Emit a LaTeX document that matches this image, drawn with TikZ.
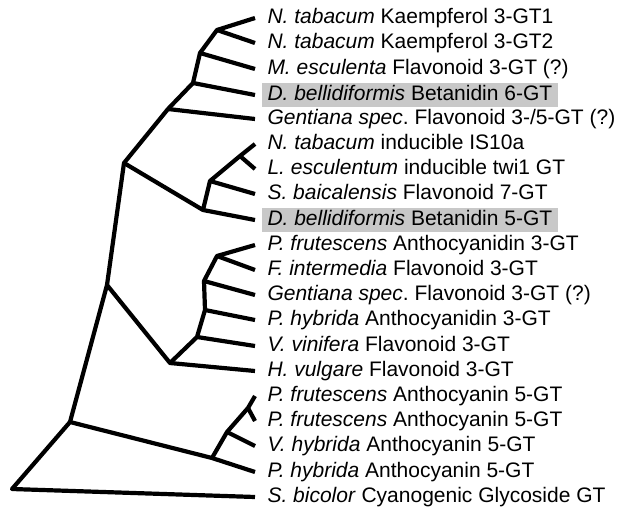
\documentclass[tikz,border=0pt]{standalone}
\usepackage{fontspec}
\setmainfont{Liberation Sans}
\usepackage{tikz}
\usetikzlibrary{shapes,arrows,positioning,calc}
\frenchspacing
\definecolor{hlgray}{RGB}{200,200,200}
\tikzset{
  leaf/.style={anchor=west, outer xsep=7pt, inner xsep=5.5pt, inner ysep=2.5pt,
    text height=15pt, text depth=4pt, font=\fontsize{21}{25}\selectfont},
  hleaf/.style={leaf, fill=hlgray},
  branch/.style={line width=4.2pt, line join=round}
}

\begin{document}
\begin{tikzpicture}[x=1pt,y=-1pt]
  \useasboundingbox (0,0) rectangle (621,508);
  \node[leaf]  (l1)  at (255,18)  {\textit{N. tabacum} Kaempferol 3-GT1};
  \node[leaf]  (l2)  at (255,43)  {\textit{N. tabacum} Kaempferol 3-GT2};
  \node[leaf]  (l3)  at (255,69)  {\textit{M. esculenta} Flavonoid 3-GT (?)};
  \node[hleaf] (l4)  at (255,95)  {\textit{D. bellidiformis} Betanidin 6-GT};
  \node[leaf]  (l5)  at (255,119) {\textit{Gentiana spec}. Flavonoid 3-/5-GT (?)};
  \node[leaf]  (l6)  at (255,144) {\textit{N. tabacum} inducible IS10a};
  \node[leaf]  (l7)  at (255,169) {\textit{L. esculentum} inducible twi1 GT};
  \node[leaf]  (l8)  at (255,194) {\textit{S. baicalensis} Flavonoid 7-GT};
  \node[hleaf] (l9)  at (255,220) {\textit{D. bellidiformis} Betanidin 5-GT};
  \node[leaf]  (l10) at (255,245) {\textit{P. frutescens} Anthocyanidin 3-GT};
  \node[leaf]  (l11) at (255,270) {\textit{F. intermedia} Flavonoid 3-GT};
  \node[leaf]  (l12) at (255,295) {\textit{Gentiana spec}. Flavonoid 3-GT (?)};
  \node[leaf]  (l13) at (255,320) {\textit{P. hybrida} Anthocyanidin 3-GT};
  \node[leaf]  (l14) at (255,346) {\textit{V. vinifera} Flavonoid 3-GT};
  \node[leaf]  (l15) at (255,371) {\textit{H. vulgare} Flavonoid 3-GT};
  \node[leaf]  (l16) at (255,396) {\textit{P. frutescens} Anthocyanin 5-GT};
  \node[leaf]  (l17) at (255,421) {\textit{P. frutescens} Anthocyanin 5-GT};
  \node[leaf]  (l18) at (255,446) {\textit{V. hybrida} Anthocyanin 5-GT};
  \node[leaf]  (l19) at (255,472) {\textit{P. hybrida} Anthocyanin 5-GT};
  \node[leaf]  (l20) at (255,497) {\textit{S. bicolor} Cyanogenic Glycoside GT};

  \coordinate (root) at (12,489);
  \coordinate (o) at (70,422);
  \coordinate (i) at (107,285);
  \coordinate (e) at (124,163);
  \coordinate (d) at (168,109);
  \coordinate (c) at (193,83);
  \coordinate (b) at (200,53);
  \coordinate (a) at (217,30);
  \coordinate (f) at (203,210);
  \coordinate (g) at (210,181);
  \coordinate (h) at (240,156);
  \coordinate (j) at (170,363);
  \coordinate (k) at (197,337);
  \coordinate (l) at (205,310);
  \coordinate (m) at (204,281);
  \coordinate (n) at (217,256);
  \coordinate (p) at (212,458);
  \coordinate (q) at (227,432);
  \coordinate (r) at (248,408);

  \draw[branch] (l20.west) -- (root) -- (o) -- (i) -- (e) -- (d) -- (c) -- (b) -- (a) -- (l1.west);
  \draw[branch] (a) -- (l2.west);
  \draw[branch] (b) -- (l3.west);
  \draw[branch] (c) -- (l4.west);
  \draw[branch] (d) -- (l5.west);
  \draw[branch] (e) -- (f) -- (g) -- (h) -- (l6.west);
  \draw[branch] (h) -- (l7.west);
  \draw[branch] (g) -- (l8.west);
  \draw[branch] (f) -- (l9.west);
  \draw[branch] (i) -- (j) -- (k) -- (l) -- (m) -- (n) -- (l10.west);
  \draw[branch] (n) -- (l11.west);
  \draw[branch] (m) -- (l12.west);
  \draw[branch] (l) -- (l13.west);
  \draw[branch] (k) -- (l14.west);
  \draw[branch] (j) -- (l15.west);
  \draw[branch] (o) -- (p) -- (l19.west);
  \draw[branch] (p) -- (q) -- (r) -- (l16.west);
  \draw[branch] (r) -- (l17.west);
  \draw[branch] (q) -- (l18.west);
\end{tikzpicture}
\end{document}
